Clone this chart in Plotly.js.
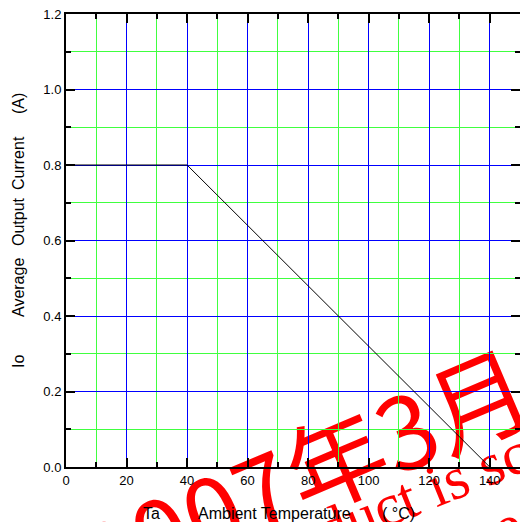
<!DOCTYPE html>
<html>
<head>
<meta charset="utf-8">
<script src="https://cdn.plot.ly/plotly-3.0.1.min.js"></script>
<style>html,body{margin:0;padding:0;background:#fff;}#chart{width:520px;height:522px;}</style>
</head>
<body>
<div id="chart"></div>
<script>
// Derating curve data
var temperature = [0, 40, 140];
var outputCurrent = [0.8, 0.8, 0.0];

// Tick settings (major / minor steps)
var xMajorStep = 20, xMinorStep = 10;
var yMajorStep = 0.2, yMinorStep = 0.1;
var xRange = [0, 150];
var yRange = [0, 1.2];

// Titles / watermark text
var yTitleWords = ['Io', 'Average', 'Output', 'Current', '(A)'];
var xTitleWords = ['Ta', 'Ambient Temperature', '( °C)'];
var watermark1 = '2007年3月';
var watermark2 = 'product is sc';
var watermark3 = 'e';

var L = 66, T = 14, W = 454, H = 453;
function px(x){ return (x - L) / W; }
function py(y){ return (T + H - y) / H; }

var yTitleY = [362, 288, 222, 163, 104];
var xTitleX = [151, 274, 398];

var annotations = [];
yTitleWords.forEach(function(w, i){
  annotations.push({text: w, xref: 'paper', yref: 'paper', x: px(18), y: py(yTitleY[i]),
    xanchor: 'center', yanchor: 'middle', textangle: -90, showarrow: false,
    font: {family: 'Liberation Sans, Arial, sans-serif', size: 16, color: '#000'}});
});
xTitleWords.forEach(function(w, i){
  annotations.push({text: w, xref: 'paper', yref: 'paper', x: px(xTitleX[i]), y: py(513),
    xanchor: 'center', yanchor: 'middle', showarrow: false,
    font: {family: 'Liberation Sans, Arial, sans-serif', size: 16, color: '#000'}});
});

function wm(text, cx, cy, fam, size, ang){
  return {type: 'rect', xref: 'paper', yref: 'paper', layer: 'below',
    x0: px(cx) - 0.001, x1: px(cx) + 0.001, y0: py(cy) - 0.001, y1: py(cy) + 0.001,
    line: {width: 0}, fillcolor: 'rgba(0,0,0,0)',
    label: {text: text, textposition: 'middle center', textangle: ang,
      font: {family: fam, size: size, color: '#ff0000'}}};
}
var shapes = [
  wm(watermark1, 309, 484, 'Noto Sans CJK JP', 100, -23),
  wm(watermark2, 383, 500, 'Liberation Serif, Times New Roman, serif', 60, -22),
  wm(watermark3, 505, 520, 'Liberation Serif, Times New Roman, serif', 60, -22)
];

var axisCommon = {
  showline: true, linecolor: '#000', linewidth: 2, mirror: 'allticks',
  ticks: 'inside', ticklen: 9, tickwidth: 2, tickcolor: '#000',
  showgrid: true, gridcolor: '#0000ff', gridwidth: 1, zeroline: false,
  tickfont: {family: 'Liberation Sans, Arial, sans-serif', size: 13, color: '#000'},
  fixedrange: true, tickmode: 'linear', tick0: 0
};

var layout = {
  width: 520, height: 522,
  margin: {l: L, r: 0, t: T, b: 522 - T - H, pad: 0},
  paper_bgcolor: 'rgba(0,0,0,0)', plot_bgcolor: 'rgba(0,0,0,0)',
  showlegend: false,
  xaxis: Object.assign({}, axisCommon, {
    range: xRange, dtick: xMajorStep,
    minor: {dtick: xMinorStep, tick0: 0, ticks: 'inside', ticklen: 5, tickwidth: 2, tickcolor: '#000',
      showgrid: true, gridcolor: '#40ff40', gridwidth: 1}
  }),
  yaxis: Object.assign({}, axisCommon, {
    range: yRange, dtick: yMajorStep, tickformat: '.1f',
    minor: {dtick: yMinorStep, tick0: 0, ticks: 'inside', ticklen: 5, tickwidth: 2, tickcolor: '#000',
      showgrid: true, gridcolor: '#40ff40', gridwidth: 1}
  }),
  annotations: annotations,
  shapes: shapes
};

var data = [{
  x: temperature, y: outputCurrent, type: 'scatter', mode: 'lines',
  line: {color: '#000', width: 1}, hoverinfo: 'skip'
}];

Plotly.newPlot('chart', data, layout, {staticPlot: true, displayModeBar: false});
</script>
</body>
</html>
